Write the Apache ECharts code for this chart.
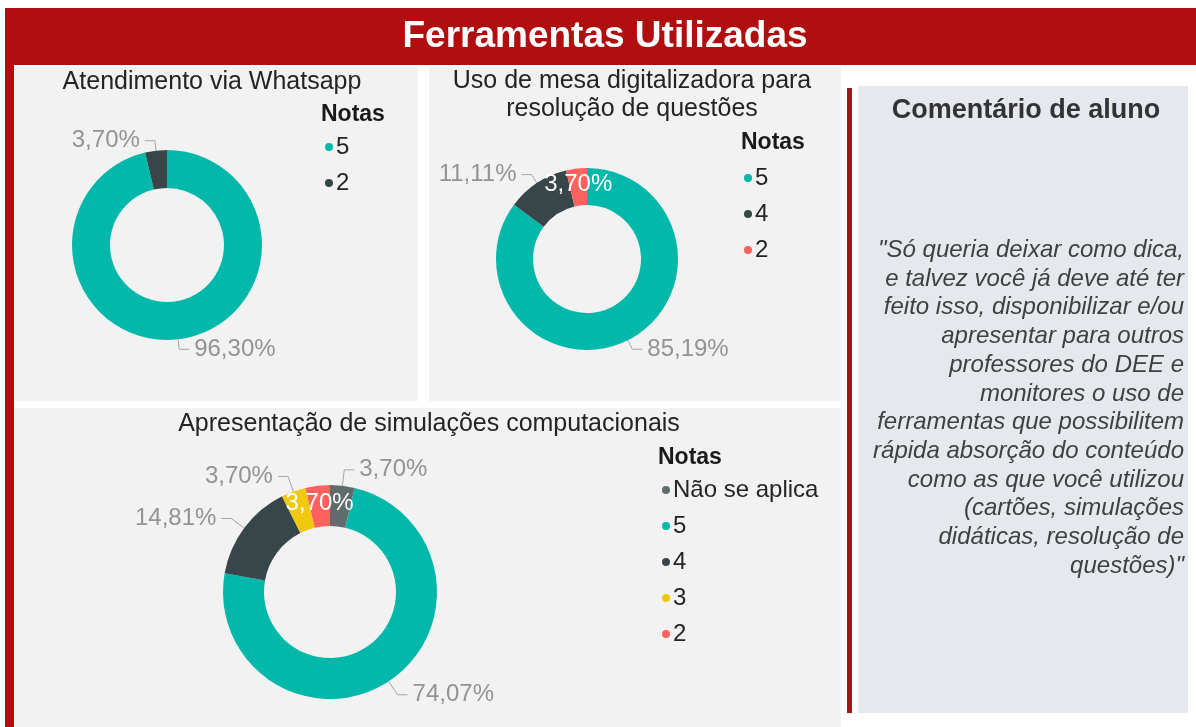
<!DOCTYPE html>
<html>
<head>
<meta charset="utf-8">
<script src="https://cdn.jsdelivr.net/npm/echarts@6/dist/echarts.min.js"></script>
<style>
html,body{margin:0;padding:0;background:#fff;}
#chart{width:1196px;height:727px;}
</style>
</head>
<body>
<div id="chart"></div>
<script>
// ---- Data ----
const mainTitle = 'Ferramentas Utilizadas';
const whatsappTitle = 'Atendimento via Whatsapp';
const whatsappCats = ['5', '2'];
const whatsappVals = [96.30, 3.70];

const mesaTitle = ['Uso de mesa digitalizadora para', 'resolução de questões'];
const mesaCats = ['5', '4', '2'];
const mesaVals = [85.19, 11.11, 3.70];

const simTitle = 'Apresentação de simulações computacionais';
const simCats = ['Não se aplica', '5', '4', '3', '2'];
const simVals = [3.70, 74.07, 14.81, 3.70, 3.70];

const legendTitle = 'Notas';
const commentTitle = 'Comentário de aluno';
const commentLines = [
  '"Só queria deixar como dica,',
  'e talvez você já deve até ter',
  'feito isso, disponibilizar e/ou',
  'apresentar para outros',
  'professores do DEE e',
  'monitores o uso de',
  'ferramentas que possibilitem',
  'rápida absorção do conteúdo',
  'como as que você utilizou',
  '(cartões, simulações',
  'didáticas, resolução de',
  'questões)"'
];

// ---- Styles ----
const FONT = '"Liberation Sans", Arial, Helvetica, sans-serif';
const whatsappColors = ['#01B8AA', '#374649'];
const mesaColors = ['#01B8AA', '#374649', '#FD625E'];
const simColors = ['#5F6B6D', '#01B8AA', '#374649', '#F2C80F', '#FD625E'];

const fmt = p => p.value.toFixed(2).replace('.', ',') + '%';

function buildData(cats, vals, colors, insideCats) {
  return cats.map((c, i) => {
    const d = { name: c, value: vals[i], itemStyle: { color: colors[i] } };
    if (insideCats.indexOf(c) >= 0) {
      d.label = { position: 'inside', color: '#ffffff' };
      d.labelLine = { show: false };
    }
    return d;
  });
}

function pieSeries(name, cats, vals, colors, center, radius, insideCats, len) {
  return {
    type: 'pie',
    name: name,
    center: center,
    radius: radius,
    startAngle: 90,
    clockwise: true,
    avoidLabelOverlap: true,
    emphasis: { disabled: true },
    label: {
      show: true,
      position: 'outside',
      formatter: fmt,
      color: '#939393',
      fontSize: 24,
      fontFamily: FONT
    },
    labelLine: {
      show: true,
      length: len,
      length2: 10,
      lineStyle: { color: '#a6a6a6', width: 1 }
    },
    data: buildData(cats, vals, colors, insideCats)
  };
}

function legendFor(cats, colors, left, top) {
  return {
    orient: 'vertical',
    left: left,
    top: top,
    data: cats.map((c, i) => ({ name: c, itemStyle: { color: colors[i] } })),
    icon: 'circle',
    itemWidth: 8,
    itemHeight: 8,
    itemGap: 12,
    selectedMode: false,
    padding: 0,
    textStyle: { fontSize: 24, lineHeight: 24, color: '#252423', fontFamily: FONT, padding: [0, 0, 0, -2] }
  };
}

const bgRed = '#B10F0F';
const graphics = [
  { type: 'rect', z: -10, shape: { x: 5, y: 8, width: 1191, height: 57 }, style: { fill: bgRed } },
  { type: 'rect', z: -10, shape: { x: 5, y: 60, width: 9, height: 667 }, style: { fill: bgRed } },
  { type: 'rect', z: -10, shape: { x: 15, y: 67, width: 403, height: 334 }, style: { fill: '#F2F2F2' } },
  { type: 'rect', z: -10, shape: { x: 429, y: 67, width: 412, height: 334 }, style: { fill: '#F2F2F2' } },
  { type: 'rect', z: -10, shape: { x: 15, y: 408, width: 826, height: 319 }, style: { fill: '#F2F2F2' } },
  { type: 'rect', z: -10, shape: { x: 847, y: 88, width: 5, height: 625 }, style: { fill: '#A3161B' } },
  { type: 'rect', z: -10, shape: { x: 858, y: 86, width: 330, height: 627 }, style: { fill: '#E5E8ED' } },
  { type: 'text', z: 10, style: { text: mainTitle, x: 605, y: 37, textAlign: 'center', textVerticalAlign: 'middle', fill: '#ffffff', font: 'bold 37px ' + FONT } },
  { type: 'text', z: 10, style: { text: whatsappTitle, x: 212, y: 82, textAlign: 'center', textVerticalAlign: 'middle', fill: '#252423', font: '25px ' + FONT } },
  { type: 'text', z: 10, style: { text: mesaTitle[0], x: 632, y: 81, textAlign: 'center', textVerticalAlign: 'middle', fill: '#252423', font: '25px ' + FONT } },
  { type: 'text', z: 10, style: { text: mesaTitle[1], x: 632, y: 109, textAlign: 'center', textVerticalAlign: 'middle', fill: '#252423', font: '25px ' + FONT } },
  { type: 'text', z: 10, style: { text: simTitle, x: 429, y: 424, textAlign: 'center', textVerticalAlign: 'middle', fill: '#252423', font: '25px ' + FONT } },
  { type: 'text', z: 10, style: { text: legendTitle, x: 321, y: 115, textAlign: 'left', textVerticalAlign: 'middle', fill: '#1a1a1a', font: 'bold 23px ' + FONT } },
  { type: 'text', z: 10, style: { text: legendTitle, x: 741, y: 143, textAlign: 'left', textVerticalAlign: 'middle', fill: '#1a1a1a', font: 'bold 23px ' + FONT } },
  { type: 'text', z: 10, style: { text: legendTitle, x: 658, y: 458, textAlign: 'left', textVerticalAlign: 'middle', fill: '#1a1a1a', font: 'bold 23px ' + FONT } },
  { type: 'text', z: 10, style: { text: commentTitle, x: 1026, y: 111, textAlign: 'center', textVerticalAlign: 'middle', fill: '#333333', font: 'bold 27px ' + FONT } },
  { type: 'text', z: 10, style: { text: commentLines.join('\n'), x: 1184, y: 236, textAlign: 'right', textVerticalAlign: 'top', lineHeight: 28.7, fill: '#404040', font: 'italic 24px ' + FONT } }
];

const chart = echarts.init(document.getElementById('chart'), null, { renderer: 'canvas' });
chart.setOption({
  animation: false,
  backgroundColor: '#ffffff',
  graphic: { elements: graphics },
  legend: [
    legendFor(whatsappCats, whatsappColors, 325, 135),
    legendFor(mesaCats, mesaColors, 744, 166),
    legendFor(simCats, simColors, 662, 478)
  ],
  series: [
    pieSeries('whatsapp', whatsappCats, whatsappVals, whatsappColors, [167, 245], [57, 95], [], 10),
    pieSeries('mesa', mesaCats, mesaVals, mesaColors, [587, 259], [54, 91], ['2'], 10),
    pieSeries('sim', simCats, simVals, simColors, [330, 592], [66, 107], ['2'], 16)
  ]
});
</script>
</body>
</html>
